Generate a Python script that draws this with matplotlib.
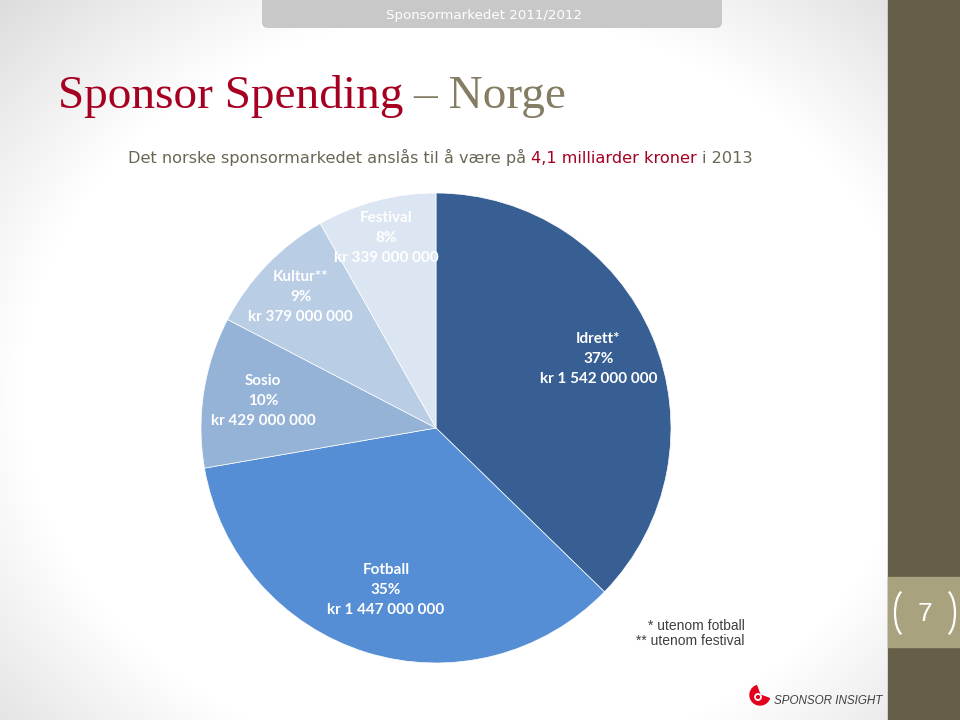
import numpy as np
import matplotlib
matplotlib.use("Agg")
import matplotlib.pyplot as plt
from matplotlib.patches import Rectangle, FancyBboxPatch, Arc, Wedge, Circle

# ---------------- data ----------------
categories = ["Idrett*", "Fotball", "Sosio", "Kultur**", "Festival"]
values_kr = [1542000000, 1447000000, 429000000, 379000000, 339000000]
colors = ["#375F93", "#558ED5", "#95B3D7", "#B9CDE5", "#DCE6F2"]
label_radius = [0.75, 0.72, 0.745, 0.80, 0.835]

title_main = "Sponsor Spending"
title_rest = "– Norge"
subtitle_parts = ["Det norske sponsormarkedet anslås til å være på", "4,1 milliarder kroner", "i 2013"]
header_text = "Sponsormarkedet 2011/2012"
footnotes = ["* utenom fotball", "** utenom festival"]
page_number = "7"
logo_text = "SPONSOR INSIGHT"

W, H = 960, 720
fig = plt.figure(figsize=(9.6, 7.2), dpi=100)

# ---------------- background ----------------
bg = fig.add_axes([0, 0, 1, 1])
bg.set_xlim(0, W)
bg.set_ylim(H, 0)
bg.axis("off")
yy, xx = np.mgrid[0:H, 0:W]
r = np.sqrt(((xx - 470) / 560.0) ** 2 + ((yy - 390) / 470.0) ** 2)
shade = np.clip((r - 0.80) / 0.45, 0, 1)
img = 1.0 - 0.16 * shade
bg.imshow(np.dstack([img, img, img]), extent=[0, W, H, 0], zorder=0, aspect="auto")

# right band
bg.add_patch(Rectangle((888, 0), 72, H, color="#655E48", zorder=2))
bg.add_patch(Rectangle((888, 577), 72, 70, color="#A8A27E", zorder=3))
bg.add_patch(Arc((905, 613), 20, 46, theta1=100, theta2=260, color="white", lw=1.6, zorder=4))
bg.add_patch(Arc((945, 613), 20, 46, theta1=-80, theta2=80, color="white", lw=1.6, zorder=4))
bg.text(925, 614, page_number, color="white", fontsize=19, ha="center", va="center",
        family="Liberation Sans", zorder=5)

# header tab
bg.add_patch(FancyBboxPatch((262, -20), 460, 48, boxstyle="round,pad=0,rounding_size=6",
                            facecolor="#C8C8C8", edgecolor="none", zorder=2))
bg.text(484, 15, header_text, color="white", fontsize=9.6, ha="center", va="center",
        family="DejaVu Sans", zorder=3)

# title
t1 = bg.text(58, 108, title_main, color="#A50021", fontsize=34, family="Liberation Serif",
             ha="left", va="baseline", zorder=3)
fig.canvas.draw()
rend = fig.canvas.get_renderer()
inv = bg.transData.inverted()
def right_edge(t):
    bb = t.get_window_extent(renderer=rend)
    return inv.transform((bb.x1, bb.y0))[0]
x_end = right_edge(t1)
bg.text(x_end + 10, 108, title_rest, color="#847C63", fontsize=34, family="Liberation Serif",
        ha="left", va="baseline", zorder=3)

# subtitle
sub_kw = dict(fontsize=11.6, family="DejaVu Sans", va="baseline", zorder=3)
sub_colors = ["#6B6654", "#A50021", "#6B6654"]
x = 128
for part, c in zip(subtitle_parts, sub_colors):
    t = bg.text(x, 163, part, color=c, ha="left", **sub_kw)
    fig.canvas.draw()
    x = right_edge(t) + 5

# footnotes
for i, fn in enumerate(footnotes):
    bg.text(745, 626 + 15 * i, fn, color="#3F3F3F", fontsize=10, family="Liberation Sans",
            ha="right", va="center", zorder=3)

# logo
bg.add_patch(Wedge((760, 695), 10, 20, 250, color="#E3001B", zorder=3))
bg.add_patch(Circle((758, 697), 3.2, color="white", zorder=4))
bg.add_patch(Circle((758, 697), 1.4, color="#E3001B", zorder=5))
bg.text(774, 701, logo_text, color="#404040", fontsize=8.4, style="italic",
        family="Liberation Sans", ha="left", va="center", zorder=3)

# ---------------- pie ----------------
cx, cy, R = 436, 428, 235
ax = fig.add_axes([(cx - R) / W, (H - cy - R) / H, 2 * R / W, 2 * R / H])
wedges, _ = ax.pie(values_kr, colors=colors, startangle=90, counterclock=False,
                   wedgeprops=dict(edgecolor="white", linewidth=0.5), radius=1.0)
ax.set_xlim(-1, 1)
ax.set_ylim(-1, 1)
ax.set_aspect("equal")
ax.axis("off")

total = sum(values_kr)
def fmt_kr(v):
    s = f"{v:,}".replace(",", " ")
    return f"kr {s}"

for w, cat, v, lr in zip(wedges, categories, values_kr, label_radius):
    mid = np.deg2rad((w.theta1 + w.theta2) / 2.0)
    pct = round(100 * v / total)
    ax.text(lr * np.cos(mid), lr * np.sin(mid), f"{cat}\n{pct}%\n{fmt_kr(v)}",
            ha="center", va="center", color="white", fontsize=11, fontweight="bold",
            family="Lato", linespacing=1.55)

fig.savefig("out.png", dpi=100)
